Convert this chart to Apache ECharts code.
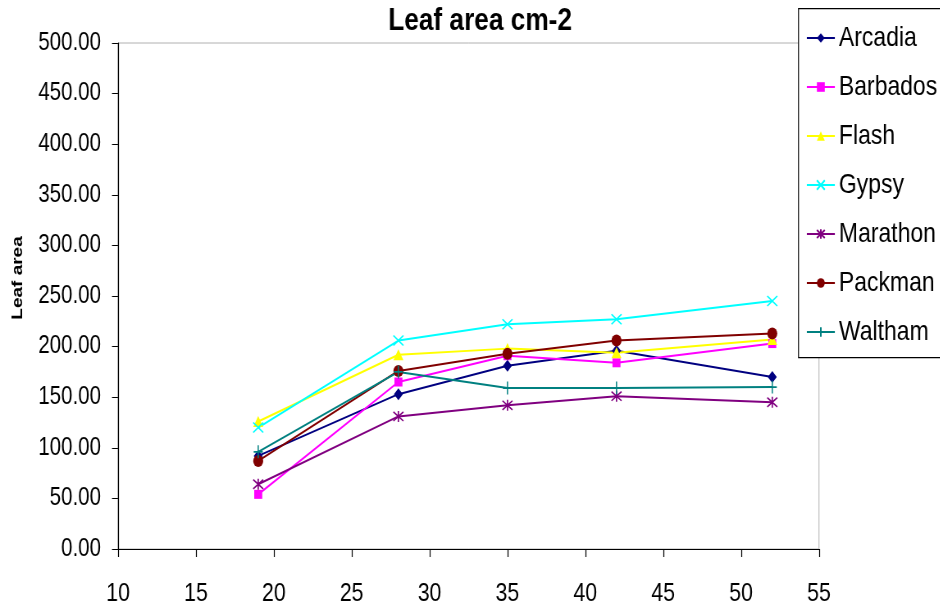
<!DOCTYPE html>
<html>
<head>
<meta charset="utf-8">
<script src="https://cdn.jsdelivr.net/npm/echarts@6/dist/echarts.min.js"></script>
<style>
html,body{margin:0;padding:0;background:#fff;overflow:hidden;width:940px;height:611px}
#c{width:1146px;height:611px;transform:scaleX(0.82);transform-origin:0 0}
</style>
</head>
<body>
<div id="c"></div>
<script>
var weeks = [19, 28, 35, 42, 52];
var names = ['Arcadia', 'Barbados', 'Flash', 'Gypsy', 'Marathon', 'Packman', 'Waltham'];
var arcadia  = [92, 153, 181, 196, 170];
var barbados = [54, 165, 191, 184, 203];
var flash    = [126, 192, 198, 194, 207];
var gypsy    = [120, 206, 222, 227, 245];
var marathon = [64, 131, 142, 151, 145];
var packman  = [87, 176, 193, 206, 213];
var waltham  = [96, 175, 159, 159, 160];
var values = [arcadia, barbados, flash, gypsy, marathon, packman, waltham];
var xTicks = [10, 15, 20, 25, 30, 35, 40, 45, 50, 55];
var yTicks = [0, 50, 100, 150, 200, 250, 300, 350, 400, 450, 500];

// horizontal squeeze of the whole drawing (the reference is a horizontally compressed Excel chart)
var S = 0.82;
function X(px) { return px / S; }

var colors = ['#000080', '#FF00FF', '#FFFF00', '#00FFFF', '#800080', '#800000', '#008080'];
var symbols = [
  'diamond', 'rect', 'triangle',
  'path://M0,0L10,10M10,0L0,10',
  'path://M0,0L10,10M10,0L0,10M5,-1L5,11',
  'circle',
  'path://M5,0L5,12M1,6L9,6'
];
var sizes = [[X(9), 12], [X(8), 9], [X(10), 11], [X(10), 10], [X(10), 11], [X(10), 12], [X(9), 13]];
var stroked = [false, false, false, true, true, false, true];
var FONT = '"Liberation Sans",Arial,sans-serif';

var series = names.map(function (n, i) {
  return {
    name: n,
    type: 'line',
    data: weeks.map(function (w, j) { return [w, values[i][j]]; }),
    symbol: symbols[i],
    symbolSize: sizes[i],
    showAllSymbol: true,
    lineStyle: { color: colors[i], width: 2 },
    itemStyle: stroked[i]
      ? { color: colors[i], borderColor: colors[i], borderWidth: 1.6 }
      : { color: colors[i], borderWidth: 0 },
    emphasis: { disabled: true },
    animation: false
  };
});

var chart = echarts.init(document.getElementById('c'), null, { renderer: 'canvas' });
chart.setOption({
  animation: false,
  backgroundColor: '#fff',
  title: {
    text: 'Leaf area cm-2',
    left: X(476), top: 0, textAlign: 'center',
    textStyle: { fontFamily: FONT, fontSize: 32, fontWeight: 'bold', color: '#000' }
  },
  legend: {
    orient: 'vertical',
    left: X(806), top: 23,
    padding: 0,
    itemWidth: X(28), itemHeight: 12, itemGap: 19,
    textStyle: { fontFamily: FONT, fontSize: 28, color: '#000', lineHeight: 30 },
    data: names
  },
  grid: {
    left: X(118), right: 1146 - X(819), top: 43, bottom: 62,
    show: true, borderColor: '#b0b0b0', borderWidth: 1, backgroundColor: 'transparent'
  },
  xAxis: {
    type: 'value', min: xTicks[0], max: xTicks[xTicks.length - 1], interval: 5,
    axisLine: { show: true, lineStyle: { color: '#000', width: 1.2 } },
    axisTick: { show: true, length: 8, lineStyle: { color: '#000', width: 1.2 } },
    axisLabel: { margin: 32, fontFamily: FONT, fontSize: 26, color: '#000' },
    splitLine: { show: false }
  },
  yAxis: {
    type: 'value', min: yTicks[0], max: yTicks[yTicks.length - 1], interval: 50,
    axisLine: { show: true, lineStyle: { color: '#000', width: 1.2 } },
    axisTick: { show: true, length: X(6), lineStyle: { color: '#000' } },
    axisLabel: { margin: X(17), fontFamily: FONT, fontSize: 25, color: '#000',
      formatter: function (v) { return v.toFixed(2); } },
    splitLine: { show: false }
  },
  graphic: [
    {
      type: 'rect', left: X(798), top: 8, z: 0,
      shape: { width: 200, height: 349 },
      style: { fill: '#fff', stroke: '#000', lineWidth: 1.2 }
    },
    {
      type: 'text', x: X(18), y: 278, rotation: Math.PI / 2,
      style: { text: 'Leaf area', fontFamily: FONT, fontSize: 19,
        fontWeight: 'bold', fill: '#000', textAlign: 'center', textVerticalAlign: 'middle' }
    }
  ],
  series: series
});
</script>
</body>
</html>
